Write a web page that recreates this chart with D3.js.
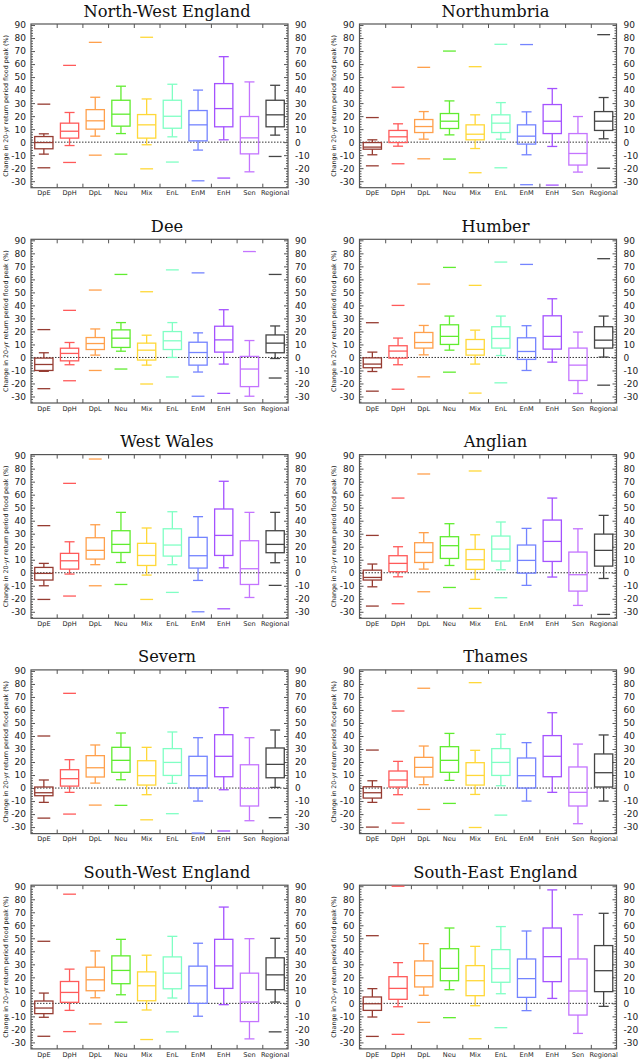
<!DOCTYPE html>
<html><head><meta charset="utf-8">
<script src="https://cdn.jsdelivr.net/npm/d3@7"></script>
<style>body{margin:0;background:#fff}svg{display:block}</style>
</head><body>
<svg id="chart" width="640" height="1063"></svg>
<script>
// Categories (x axis)
const categories = ["DpE","DpH","DpL","Neu","Mix","EnL","EnM","EnH","Sen","Regional"];
const regions = ["North-West England","Northumbria","Dee","Humber","West Wales","Anglian","Severn","Thames","South-West England","South-East England"];
const palette = ["#963c32","#ff5a5a","#ffa04c","#60ec30","#ffd838","#80ffc4","#7484ff","#a452ff","#c474ff","#454545"];
const yTicks = [-30,-20,-10,0,10,20,30,40,50,60,70,80,90];
const yLabel = "Change in 20-yr return period flood peak (%)";
// Each row: [low outlier, lower whisker, q1, median, q3, upper whisker, high outlier]
const northWestEngland = [
 [-19.7,-9.2,-5.1,-0.3,4.3,6.4,29.2],
 [-15.6,-2.6,3.1,8.4,14.6,22.8,59],
 [-10,4.6,10,16.4,25,34.5,76.7],
 [-9.2,6.6,12.3,21.5,32.2,43,null],
 [-20.5,-2,3.1,13.3,21.2,33.2,80.6],
 [-15.3,4.1,10.7,19.9,32.2,44.5,null],
 [-29.7,-6.1,1,13.3,24.3,40,null],
 [-27.6,1.8,11.8,25.8,45,65.7,null],
 [null,-22.8,-9,3.3,19.7,46.3,null],
 [-11,5.4,11.8,21,32.2,43.7,null]];
const northumbria = [
 [-18.2,-9.7,-5.4,-3.8,-0.3,1.8,18.9],
 [-16.6,-3.1,-0.3,4.1,9,14.1,42.2],
 [-12.8,2.3,7.4,12,17.4,23.5,57.5],
 [-13,5.6,10.5,16.1,22,31.7,70],
 [-23.5,-4.9,1.8,6.1,13.3,21,58],
 [-19.7,2.3,7.4,14.6,21,30.4,75.2],
 [-32.7,-9.7,-1.5,4.6,13.3,23.3,75],
 [-33,-3.3,6.6,16.1,28.9,41.2,null],
 [null,-23,-17.6,-8.7,6.6,19.7,null],
 [-20,2.6,9,16.1,23.5,34.3,82.6]];
const dee = [
 [-24,-10.7,-10,-5.4,-0.5,3.6,21.4],
 [-17.9,-5.6,-2.6,3.1,7.1,11.5,36.2],
 [-10,1.8,6.1,10.7,15.3,21.9,51.8],
 [-8.9,4.8,7.7,14.8,21.2,26.8,63.8],
 [-20.4,-5.9,-2,5.6,11,17.1,50.5],
 [-15,0,6.1,12.8,19.9,26.8,67.3],
 [-29.8,-11.2,-5.9,3.8,11.7,18.9,65],
 [-27.6,-5.1,4.1,13.5,24,36.7,null],
 [null,-29.8,-22.4,-8.9,0.8,13,81.4],
 [-15.8,-0.8,3.6,11,17.3,24.2,63.8]];
const humber = [
 [-25.9,-10.8,-7.9,-5.1,-0.3,4.1,26.7],
 [-24.4,-5.6,-0.5,4.9,9,14.9,40],
 [-14.9,2,7.2,11.5,19.2,24.6,56.4],
 [-11.3,5.6,10,16.2,25.1,31.8,69.2],
 [-27.4,-5.1,1.8,6.2,13.8,21,55.4],
 [-19.5,1.5,7.2,14.6,23.6,31.8,73.3],
 [null,-10,-1.5,4.6,15.1,24.4,71.5],
 [null,-3.6,6.4,16.2,32,45.1,null],
 [null,-27.7,-17.7,-5.9,7.2,19.5,null],
 [-21.3,0.3,7.2,13.3,23.6,31.8,75.9]];
const westWales = [
 [-20.5,-10,-5.6,-0.5,4.1,7.2,36.2],
 [-17.9,-1,2.8,9.2,14.9,23.8,68.7],
 [-10,6.2,10.5,17.2,26.9,36.9,87.4],
 [-9,7.9,15.6,21.8,32.3,46.4,null],
 [-20.5,-1.8,5.6,13.3,22.6,34.4,null],
 [-15.1,6.2,12.8,21.3,33.8,46.9,null],
 [-30,-5.9,3.6,13.1,27.2,43.1,null],
 [-27.7,3.8,13.3,28.7,49,70.3,null],
 [null,-19,-9,3.1,24.6,46.4,null],
 [-9.7,7.7,15.4,21.8,32.3,46.4,null]];
const anglian = [
 [-25.6,-10.8,-5.6,-3.6,2,6.7,28.7],
 [-23.8,-3.1,0.8,7.2,13.1,20,57.4],
 [-14.6,2.8,7.9,15.6,23.1,30.8,75.9],
 [-11.3,5.6,11,20.8,27.7,37.7,null],
 [-27.4,-5.1,2.6,10,17.9,29.2,78.2],
 [-19.2,2.3,9,18.2,28.2,39,null],
 [null,-9.7,-0.3,9.5,21.3,34.1,null],
 [null,-3.3,8.7,24.1,40.5,57.4,null],
 [null,-25.1,-14.1,-1.5,15.9,33.8,null],
 [-32,-4.4,5.1,17.2,29.7,44.1,null]];
const severn = [
 [-23.1,-11,-5.9,-3.6,0.8,6.2,40],
 [-20,-3.3,1.5,7.2,14.1,21.8,72.8],
 [-13.1,3.8,8.5,15.6,24.9,33.1,null],
 [-13.3,6.4,12.1,21.3,31.3,42.3,null],
 [-24.4,-5.1,2.3,9.5,21,31.3,null],
 [-19.7,3.6,9.7,19.7,30.3,43.1,null],
 [-34.6,-10,0,9.5,24.4,38.7,null],
 [-33,-1.3,8.7,24.4,41,61.8,null],
 [null,-25.1,-13.8,-0.3,17.9,38.7,null],
 [-22.8,0.5,7.9,18.2,30.8,44.6,null]];
const thames = [
 [-30,-11,-7.7,-3.6,1,5.6,29.2],
 [-26.9,-5.1,0.8,6.2,13.1,20.5,59.2],
 [-16.4,2.6,8.5,15.9,23.6,32.3,76.7],
 [-11.8,5.9,12.1,21.3,31.8,42,null],
 [-30.3,-4.9,2.3,9.7,19.5,29,81],
 [-20.8,1.8,9.7,19.7,30.3,41.3,null],
 [null,-10,0,9.5,23.1,34.9,null],
 [null,-3.3,8.7,24.4,40.3,57.9,null],
 [null,-27.4,-13.8,-3.3,16.2,33.8,null],
 [null,-10,0.8,11.8,26.2,40.8,null]];
const southWestEngland = [
 [-25.3,-10.7,-7.9,-3.6,1.8,7.9,47.7],
 [-21.7,-5.4,0.8,8.4,16.8,26.3,83.9],
 [-15.8,4.3,9.7,18.1,27.8,40.3,null],
 [-14.5,6.6,15.1,25.3,36.5,49.2,null],
 [-27.8,-5.1,2,13.5,24.2,37,null],
 [-21.9,4.1,11.2,23.2,35.7,51.5,null],
 [null,-9.9,0,13.5,28.6,46.2,null],
 [null,-1,11.5,28.8,49.2,74,null],
 [null,-27.3,-14,1,23.2,49.7,null],
 [-21.9,1,10.5,21.9,35,50,null]];
const southEastEngland = [
 [-25.4,-10.5,-5.4,-0.3,4.9,11.3,52],
 [-23.8,-2.6,3.1,11.5,20.5,31.3,90],
 [-14.6,6.2,12.6,21.3,32.6,45.9,null],
 [-11,10.5,17.4,26.9,42,57.9,null],
 [-27.2,-1.8,5.9,17.4,29,43.8,null],
 [-18.7,7.4,16.2,26.7,41.3,59,null],
 [null,-5.6,4.6,19,34.1,55.6,null],
 [null,3.8,16.7,35.9,57.9,87.2,null],
 [null,-23.1,-9,9.5,34.1,68.2,null],
 [null,-2.3,9,25.1,44.4,69.2,null]];
const regionData = [northWestEngland,northumbria,dee,humber,westWales,anglian,severn,thames,southWestEngland,southEastEngland];

const svg = d3.select("#chart");
const colX = [31, 359.5], frameW = 257, frameH = 163.7, rowPitch = 215.3, top0 = 24;
const frameCol = "#555";

regionData.forEach((rows, i) => {
  const col = i % 2, row = Math.floor(i / 2);
  const x0 = colX[col], top = top0 + row * rowPitch, bottom = top + frameH;
  const g = svg.append("g");
  const y = d3.scaleLinear().domain([-35, 90.8]).range([bottom, top]);
  const x = d3.scaleBand().domain(categories).range([x0, x0 + frameW]).padding(0);
  const xl = d3.scaleLinear().domain([0, categories.length]).range([x0, x0 + frameW]);
  const bw = x.bandwidth();

  // title
  g.append("text").attr("x", x0 + 136).attr("y", top - 7.5).attr("text-anchor", "middle")
    .attr("font-family", "DejaVu Serif, serif").attr("font-size", 16.3).attr("fill", "#111")
    .text(regions[i]);
  // y label
  g.append("text").attr("transform", `translate(${x0 - 25.5},${(top + bottom) / 2}) rotate(-90)`)
    .attr("text-anchor", "middle").attr("dy", "0.35em")
    .attr("font-family", "DejaVu Sans, sans-serif").attr("font-size", 6.3).attr("fill", "#222")
    .text(yLabel);

  // zero line
  g.append("line").attr("x1", x0).attr("x2", x0 + frameW).attr("y1", y(0)).attr("y2", y(0))
    .attr("stroke", "#333").attr("stroke-width", 1).attr("stroke-dasharray", "1.5,1.5");

  const styleAxis = sel => {
    sel.select(".domain").remove();
    sel.selectAll(".tick line").attr("stroke", frameCol).attr("stroke-width", 1);
    sel.selectAll(".tick text").attr("fill", "#222").attr("font-family", "DejaVu Sans, sans-serif");
  };
  const minor = d3.range(-34, 91, 2).filter(v => v % 10 !== 0);
  // left axis
  g.append("g").attr("transform", `translate(${x0},0)`)
    .call(d3.axisLeft(y).tickValues(yTicks).tickSize(-4).tickPadding(5).tickFormat(d => String(d)))
    .call(styleAxis).call(s => s.selectAll(".tick text").attr("font-size", 9));
  g.append("g").attr("transform", `translate(${x0},0)`)
    .call(d3.axisLeft(y).tickValues(minor).tickSize(-2).tickFormat(""))
    .call(styleAxis);
  // right axis
  g.append("g").attr("transform", `translate(${x0 + frameW},0)`)
    .call(d3.axisRight(y).tickValues(yTicks).tickSize(-4).tickPadding(7).tickFormat(d => String(d)))
    .call(styleAxis).call(s => s.selectAll(".tick text").attr("font-size", 9));
  g.append("g").attr("transform", `translate(${x0 + frameW},0)`)
    .call(d3.axisRight(y).tickValues(minor).tickSize(-2).tickFormat(""))
    .call(styleAxis);
  // top & bottom boundary ticks
  g.append("g").attr("transform", `translate(0,${bottom})`)
    .call(d3.axisBottom(xl).tickValues(d3.range(1, categories.length)).tickSize(-4).tickFormat(""))
    .call(styleAxis);
  g.append("g").attr("transform", `translate(0,${top})`)
    .call(d3.axisTop(xl).tickValues(d3.range(1, categories.length)).tickSize(-4).tickFormat(""))
    .call(styleAxis);
  // category labels
  g.append("g").attr("transform", `translate(0,${bottom})`)
    .call(d3.axisBottom(x).tickSize(0).tickPadding(3))
    .call(styleAxis).call(s => s.selectAll(".tick text").attr("font-size", 6.6));

  // frame
  g.append("rect").attr("x", x0).attr("y", top).attr("width", frameW).attr("height", frameH)
    .attr("fill", "none").attr("stroke", frameCol).attr("stroke-width", 1.2);

  // boxes
  const boxes = g.append("g").attr("fill", "none").attr("stroke-width", 1.3);
  rows.forEach((d, j) => {
    const [oLo, wLo, q1, med, q3, wHi, oHi] = d;
    const cx = x(categories[j]) + bw / 2;
    const c = palette[j];
    const b = boxes.append("g").attr("stroke", c);
    const hw = bw * 0.355, cw = bw * 0.195, ow = bw * 0.25;
    b.append("rect").attr("x", cx - hw).attr("width", 2 * hw).attr("y", y(q3)).attr("height", y(q1) - y(q3));
    b.append("line").attr("x1", cx - hw).attr("x2", cx + hw).attr("y1", y(med)).attr("y2", y(med));
    b.append("line").attr("x1", cx).attr("x2", cx).attr("y1", y(q3)).attr("y2", y(wHi));
    b.append("line").attr("x1", cx).attr("x2", cx).attr("y1", y(q1)).attr("y2", y(wLo));
    b.append("line").attr("x1", cx - cw).attr("x2", cx + cw).attr("y1", y(wHi)).attr("y2", y(wHi));
    b.append("line").attr("x1", cx - cw).attr("x2", cx + cw).attr("y1", y(wLo)).attr("y2", y(wLo));
    [oLo, oHi].forEach(o => {
      if (o === null) return;
      b.append("line").attr("x1", cx - ow).attr("x2", cx + ow).attr("y1", y(o)).attr("y2", y(o));
    });
  });
});
</script>
</body></html>
